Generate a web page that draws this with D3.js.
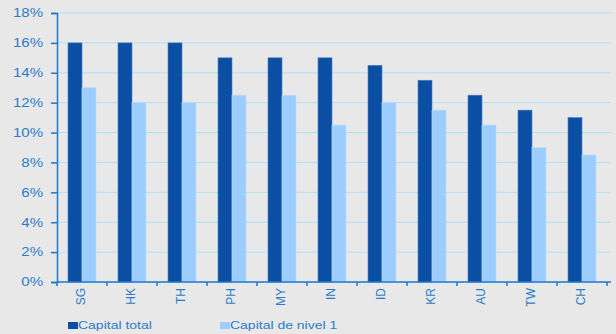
<!DOCTYPE html>
<html>
<head>
<meta charset="utf-8">
<script src="https://cdn.jsdelivr.net/npm/d3@7"></script>
<style>
  html, body { margin: 0; padding: 0; background: #e8e8e8; }
  text { font-family: "Liberation Sans", Arial, sans-serif; }
</style>
</head>
<body>
<div id="chart"></div>
<script>
var countries = ["SG", "HK", "TH", "PH", "MY", "IN", "ID", "KR", "AU", "TW", "CH"];
var capitalTotal = [16, 16, 16, 15, 15, 15, 14.5, 13.5, 12.5, 11.5, 11];
var capitalNivel1 = [13, 12, 12, 12.5, 12.5, 10.5, 12, 11.5, 10.5, 9, 8.5];
var seriesNames = ["Capital total", "Capital de nivel 1"];
var yTicks = [0, 2, 4, 6, 8, 10, 12, 14, 16, 18];

var colors = ["#0a4fa3", "#9dcdff"];
var textColor = "#2a7cc8";
var width = 616, height = 334;
var margin = {top: 13, right: 5, bottom: 52, left: 57};
var w = width - margin.left - margin.right,
    h = height - margin.top - margin.bottom;

var svg = d3.select("#chart").append("svg")
    .attr("width", width).attr("height", height)
    .style("background", "#e8e8e8");

var g = svg.append("g").attr("transform", "translate(" + margin.left + "," + margin.top + ")");

var x = d3.scaleBand().domain(countries).range([0, 550]);
var y = d3.scaleLinear().domain([0, 18]).range([h, 0]);

// grid
g.selectAll(".grid").data(yTicks.filter(function(d) { return d > 0; }))
  .enter().append("line")
  .attr("x1", 0).attr("x2", w)
  .attr("y1", function(d) { return y(d); }).attr("y2", function(d) { return y(d); })
  .attr("stroke", "#aee2f7").attr("stroke-width", 1);

// bars
var data = countries.map(function(c, i) { return {c: c, v: [capitalTotal[i], capitalNivel1[i]]}; });
var bw = 14;
data.forEach(function(d) {
  d.v.forEach(function(v, k) {
    g.append("rect")
      .attr("x", x(d.c) + x.bandwidth() / 2 - bw + k * bw)
      .attr("y", y(v))
      .attr("width", bw)
      .attr("height", y(0) - y(v))
      .attr("fill", colors[k])
      .attr("stroke", k == 0 ? "#4a7fc0" : "#b8dcff")
      .attr("stroke-width", 0.6);
  });
});

// y axis
var yAxis = g.append("g").call(d3.axisLeft(y).tickValues(yTicks).tickSize(6)
    .tickFormat(function(d) { return d + "%"; }));
yAxis.select(".domain").attr("stroke", "#1a78d0").attr("stroke-width", 1.5);
yAxis.selectAll(".tick line").attr("stroke", "#1a78d0").attr("stroke-width", 1.5);
yAxis.selectAll("text").attr("fill", textColor).style("font-size", "12px")
  .style("font-family", "'Liberation Sans', Arial, sans-serif")
  .attr("x", 0).attr("transform", "translate(-14,0) scale(1.25,1)");

// x axis
var xAxis = g.append("g").attr("transform", "translate(0," + h + ")")
  .call(d3.axisBottom(x).tickSize(0).tickPadding(0));
xAxis.select(".domain").remove();
g.append("line").attr("x1", 0).attr("x2", w).attr("y1", h).attr("y2", h)
  .attr("stroke", "#1a78d0").attr("stroke-width", 1.5);
g.selectAll(".xtick").data(d3.range(countries.length + 1)).enter().append("line")
  .attr("x1", function(i) { return i * x.step(); }).attr("x2", function(i) { return i * x.step(); })
  .attr("y1", h).attr("y2", h + 4)
  .attr("stroke", "#1a78d0").attr("stroke-width", 1.5);
xAxis.selectAll("text")
  .attr("fill", textColor).style("font-size", "12px")
  .style("font-family", "'Liberation Sans', Arial, sans-serif")
  .attr("transform", "translate(0,6) rotate(-90)")
  .attr("text-anchor", "end").attr("dy", "0.25em").attr("y", 0).attr("x", 0);

// legend
var legendX = [68, 220];
seriesNames.forEach(function(name, k) {
  svg.append("rect").attr("x", legendX[k]).attr("y", 322).attr("width", 10).attr("height", 7)
    .attr("fill", colors[k]);
  svg.append("text").attr("transform", "translate(" + (legendX[k] + 10) + ",329) scale(1.25,1)")
    .text(name)
    .attr("fill", textColor).style("font-size", "11.2px");
});
</script>
</body>
</html>
